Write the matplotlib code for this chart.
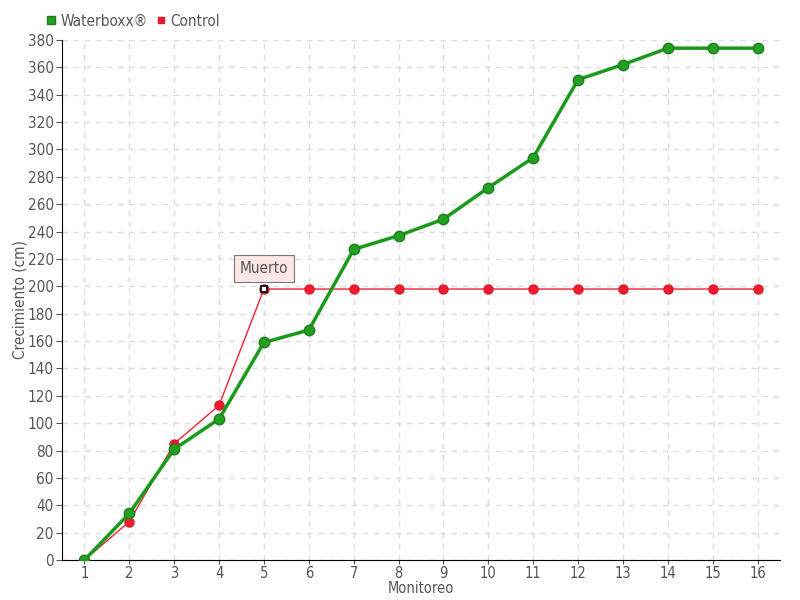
import matplotlib.pyplot as plt

# monitoring rounds and growth (cm)
monitoreo = list(range(1, 17))
waterboxx = [0, 34, 81, 103, 159, 168, 227, 237, 249, 272, 294, 351, 362, 374, 374, 374]
control = [0, 28, 85, 113, 198, 198, 198, 198, 198, 198, 198, 198, 198, 198, 198, 198]

plt.rcParams['font.family'] = ['DejaVu Sans']
plt.rcParams['font.stretch'] = 'condensed'
txt = '#555555'

fig = plt.figure(figsize=(8, 6), dpi=100)
ax = fig.add_axes([0.0775, 0.0667, 0.8975, 0.8667])

ax.plot(monitoreo, waterboxx, color='#1a9a1a', lw=2.5, marker='o', ms=7.5,
        mfc='#22a022', mec='#1f7f1f', label='Waterboxx®', zorder=3)
ax.plot(monitoreo, control, color='#ee2233', lw=1, marker='o', ms=6.5,
        mfc='#ee1c2e', mec='#dd1a2a', label='Control', zorder=2)
# dead point marker
ax.plot(monitoreo[4], control[4], marker='s', ms=5, mfc='white', mec='black',
        mew=1.2, zorder=4, ls='none')
ax.annotate('Muerto', xy=(monitoreo[4], control[4]), xytext=(0, 15),
            textcoords='offset points', ha='center', va='center', fontsize=11,
            color=txt,
            bbox=dict(boxstyle='square,pad=0.4', fc='#fde6e6', ec='#777777', lw=0.8),
            arrowprops=dict(arrowstyle='-', color='#777777', lw=0.8))

ax.set_xlim(0.5, 16.5)
ax.set_ylim(0, 380)
ax.set_xticks(monitoreo)
ax.set_yticks(range(0, 381, 20))
ax.tick_params(colors=txt, labelsize=11, length=4, direction='out', pad=2)
ax.tick_params(axis='x', labelsize=10.5, length=3, pad=1)
ax.grid(True, ls=(0, (4, 4)), color='#dddddd', lw=1)
ax.set_axisbelow(True)
for s in ['top', 'right']:
    ax.spines[s].set_visible(False)
ax.spines['left'].set_color('black')
ax.spines['bottom'].set_color('black')
ax.set_xlabel('Monitoreo', color=txt, fontsize=10.5, labelpad=0)
ax.set_ylabel('Crecimiento (cm)', color=txt, fontsize=11, labelpad=0)

ax.legend(loc='lower left', bbox_to_anchor=(-0.03, 1.01), ncol=2, frameon=False,
          fontsize=11, labelcolor=txt, handlelength=0.6, handletextpad=0.3,
          columnspacing=0.6, markerscale=0.7, borderaxespad=0)
leg = ax.get_legend()
for h in leg.legend_handles:
    h.set_marker('s')
    h.set_linestyle('none')

fig.savefig('out.png', dpi=100)
